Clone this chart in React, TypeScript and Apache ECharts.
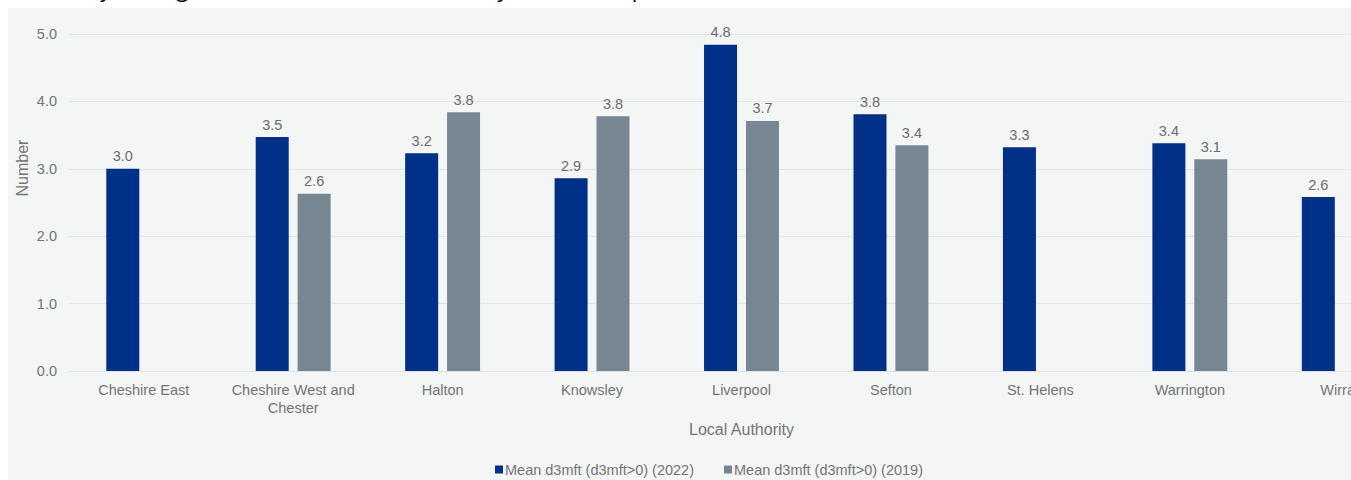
import React, { useEffect, useRef } from "react";
import * as echarts from "echarts";

// Local authorities shown along the x axis
const authorities = [
  "Cheshire East",
  "Cheshire West and\nChester",
  "Halton",
  "Knowsley",
  "Liverpool",
  "Sefton",
  "St. Helens",
  "Warrington",
  "Wirral",
];

// Mean d3mft among children with decay experience
const mean2022 = [3.0, 3.47, 3.23, 2.86, 4.84, 3.81, 3.32, 3.38, 2.58];
const mean2019: (number | null)[] = [null, 2.63, 3.84, 3.78, 3.71, 3.35, null, 3.14, null];

const seriesNames = ["Mean d3mft (d3mft>0) (2022)", "Mean d3mft (d3mft>0) (2019)"];
const yTicks = [0, 1, 2, 3, 4, 5];

const BLUE = "#003087";
const GREY = "#768692";
const BG = "#f4f6f6";
const TEXT = "#747474";
const FONT = "'Liberation Sans', Arial, sans-serif";

export default function App() {
  const ref = useRef<HTMLDivElement>(null);

  useEffect(() => {
    if (!ref.current) return;
    const chart = echarts.init(ref.current, undefined, { renderer: "svg" });
    const label = {
      show: true,
      position: "top" as const,
      distance: 5,
      color: "#6c6c6c",
      fontSize: 14.5,
      fontFamily: FONT,
      formatter: (p: any) => (p.value == null ? "" : Number(p.value).toFixed(1)),
    };
    chart.setOption({
      animation: false,
      backgroundColor: BG,
      textStyle: { fontFamily: FONT },
      grid: { left: 61, right: 14, top: 26, bottom: 109 },
      legend: {
        data: seriesNames,
        left: 482,
        top: 449,
        icon: "rect",
        itemWidth: 8,
        itemHeight: 8,
        itemGap: 30,
        textStyle: { color: TEXT, fontSize: 14.5, fontFamily: FONT, padding: [0, 0, 0, -3] },
      },
      xAxis: {
        type: "category",
        data: authorities,
        name: "Local Authority",
        nameLocation: "middle",
        nameGap: 50,
        nameTextStyle: { color: TEXT, fontSize: 16, fontFamily: FONT },
        axisLine: { show: true, lineStyle: { color: "#dfe2e2", width: 1 } },
        axisTick: { show: false },
        axisLabel: {
          color: TEXT,
          fontSize: 14.5,
          fontFamily: FONT,
          margin: 10,
          lineHeight: 18,
          interval: 0,
        },
      },
      yAxis: {
        type: "value",
        min: yTicks[0],
        max: yTicks[yTicks.length - 1],
        interval: 1,
        axisLine: { show: false },
        axisTick: { show: false },
        splitLine: { lineStyle: { color: "#e2e5e5", width: 1 } },
        axisLabel: {
          color: TEXT,
          fontSize: 14.5,
          fontFamily: FONT,
          margin: 12,
          formatter: (v: number) => v.toFixed(1),
        },
      },
      graphic: [
        {
          type: "text",
          x: 14,
          y: 160,
          rotation: Math.PI / 2,
          style: {
            text: "Number",
            fill: TEXT,
            fontSize: 16,
            fontFamily: FONT,
            align: "center",
            verticalAlign: "middle",
          },
        },
      ],
      series: [
        {
          name: seriesNames[0],
          type: "bar",
          data: mean2022,
          barWidth: 33,
          barGap: "27%",
          itemStyle: { color: BLUE },
          label,
        },
        {
          name: seriesNames[1],
          type: "bar",
          data: mean2019,
          barWidth: 33,
          barGap: "27%",
          itemStyle: { color: GREY },
          label,
        },
      ],
    });
    return () => chart.dispose();
  }, []);

  return (
    <>
      <div
        style={{
          position: "fixed",
          left: 0,
          top: 0,
          width: 1351,
          height: 8,
          overflow: "hidden",
          background: "#fff",
        }}
      >
        <span
          style={{
            position: "absolute",
            left: 30,
            top: -25,
            whiteSpace: "nowrap",
            font: "22px/26px 'Open Sans', sans-serif",
            color: "#000",
          }}
        >
          Severity among children in each local authority, with a comparison to 2019
        </span>
      </div>
      <div
        style={{
          position: "fixed",
          left: 8,
          top: 8,
          width: 1343,
          height: 472,
          overflow: "hidden",
          background: BG,
        }}
      >
        <div ref={ref} style={{ width: 1420, height: 472 }} />
      </div>
    </>
  );
}
